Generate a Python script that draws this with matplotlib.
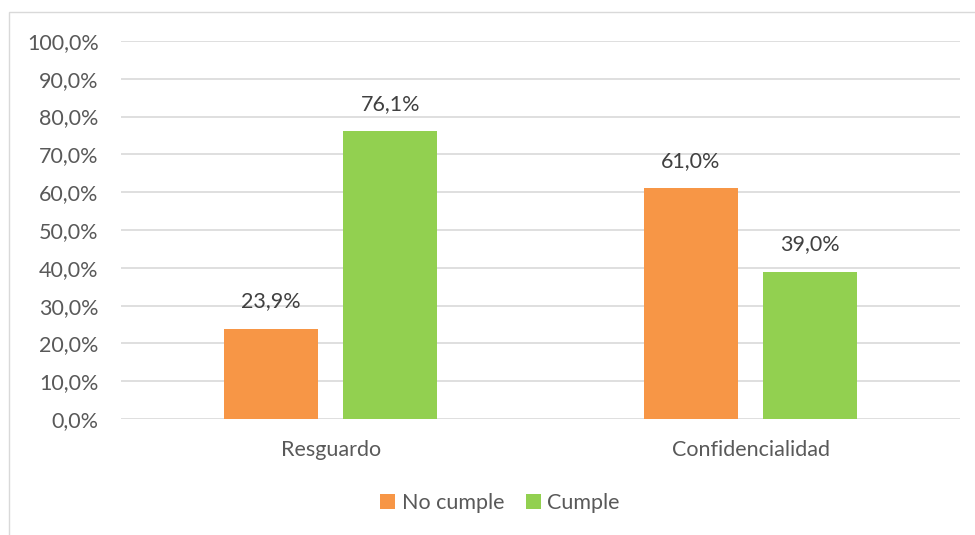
import numpy as np
import matplotlib.pyplot as plt
from matplotlib.patches import Rectangle

categories = ['Resguardo', 'Confidencialidad']
no_cumple = [23.9, 61.0]
cumple = [76.1, 39.0]
series_names = ['No cumple', 'Cumple']
yticks = np.arange(0, 101, 10)

plt.rcParams['font.family'] = ['Lato', 'DejaVu Sans']

fig = plt.figure(figsize=(9.75, 5.35), dpi=100)
ax = fig.add_axes([0.124, 0.2168, 0.861, 0.7066])

# chart border
fig.patches.append(Rectangle((9 / 975, -0.1), 1.1, 1 - 12 / 535 + 0.1,
                             transform=fig.transFigure, fill=False,
                             edgecolor='#d9d9d9', linewidth=1))

x = np.arange(len(categories))
w = 0.224
off = 0.142
b1 = ax.bar(x - off, no_cumple, w, color='#f79646', label=series_names[0], zorder=3)
b2 = ax.bar(x + off, cumple, w, color='#92d050', label=series_names[1], zorder=3)

for bars, vals in ((b1, no_cumple), (b2, cumple)):
    for b, v in zip(bars, vals):
        ax.text(b.get_x() + b.get_width() / 2, v + 7.3, ('%.1f%%' % v).replace('.', ','),
                ha='center', va='center', fontsize=15.5, color='#404040')

ax.set_xlim(-0.5, 1.5)
ax.set_ylim(0, 100)
ax.set_yticks(yticks)
ax.set_yticklabels([('%.1f%%' % t).replace('.', ',') for t in yticks])
ax.set_xticks(x)
ax.set_xticklabels(categories)
ax.tick_params(axis='both', length=0, labelsize=15.5, colors='#595959')
ax.tick_params(axis='y', pad=16)
ax.tick_params(axis='x', pad=15)
ax.grid(axis='y', color='#d9d9d9', linewidth=1.2, zorder=0)
for s in ax.spines.values():
    s.set_visible(False)

fig.legend(loc='center', bbox_to_anchor=(500 / 975, 1 - 503 / 535),
           ncol=2, frameon=False, fontsize=15.5, handlelength=0.7, handleheight=0.7,
           handletextpad=0.3, columnspacing=1.0, labelcolor='#595959')

fig.savefig('out.png', dpi=100)
